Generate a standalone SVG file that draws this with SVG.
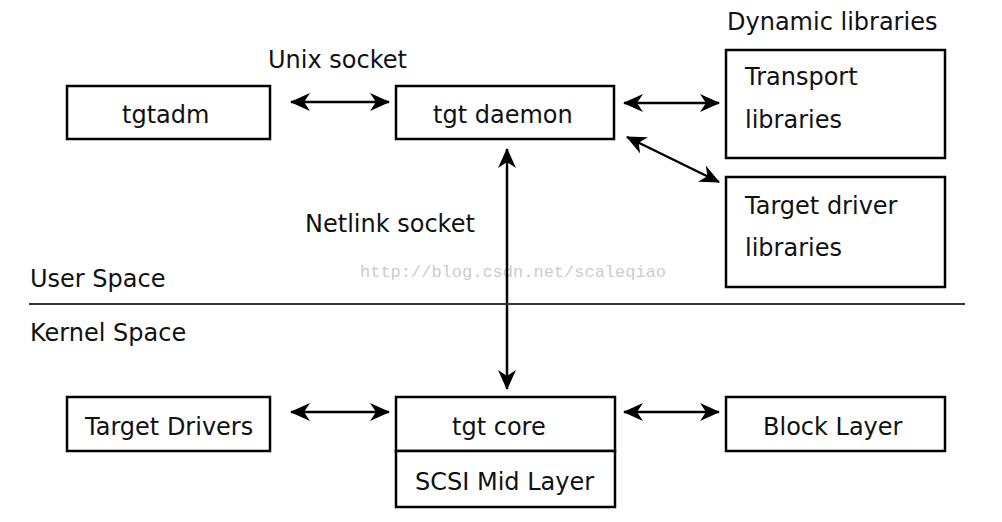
<svg xmlns="http://www.w3.org/2000/svg" width="1002" height="522" viewBox="0 0 1002 522">
<defs>
<marker id="ah" viewBox="0 0 20 18" refX="19" refY="9" markerWidth="20" markerHeight="18" markerUnits="userSpaceOnUse" orient="auto-start-reverse">
<path d="M0,0 L20,9 L0,18 L6,9 Z" fill="#000"/>
</marker>
<style>
.box{fill:#fff;stroke:#000;stroke-width:2.5}
.t{font-family:"DejaVu Sans",Verdana,sans-serif;font-size:24px;fill:#111}
.c{stroke:#000;stroke-width:2.5;fill:none;marker-start:url(#ah);marker-end:url(#ah)}
.wm{font-family:"Liberation Mono","DejaVu Sans Mono",monospace;font-size:17px;fill:#cccccc}
</style>
</defs>
<rect width="1002" height="522" fill="#fff"/>
<text class="wm" x="360" y="277">http://blog.csdn.net/scaleqiao</text>
<g id="connectors">
<line class="c" x1="291" y1="102" x2="389" y2="102"/>
<line class="c" x1="624" y1="103" x2="719" y2="103"/>
<line class="c" x1="627" y1="137" x2="719" y2="182"/>
<line class="c" x1="507" y1="149" x2="507" y2="389"/>
<line class="c" x1="291" y1="412" x2="389" y2="412"/>
<line class="c" x1="624" y1="412" x2="719" y2="412"/>
</g>
<g id="separator">
<line x1="29" y1="304" x2="965" y2="304" stroke="#333" stroke-width="2"/>
<text class="t" x="30" y="287">User Space</text>
<text class="t" x="30" y="341">Kernel Space</text>
</g>
<g id="labels">
<text class="t" x="268" y="68">Unix socket</text>
<text class="t" x="305" y="232">Netlink socket</text>
<text class="t" x="727" y="30">Dynamic libraries</text>
</g>
<g id="tgtadm"><rect class="box" x="67" y="86" width="203" height="53"/><text class="t" x="122" y="123">tgtadm</text></g>
<g id="tgt-daemon"><rect class="box" x="396" y="86" width="218" height="53"/><text class="t" x="433" y="123">tgt daemon</text></g>
<g id="transport-libraries"><rect class="box" x="726" y="50" width="219" height="108"/><text class="t" x="745" y="85">Transport</text><text class="t" x="745" y="128">libraries</text></g>
<g id="target-driver-libraries"><rect class="box" x="726" y="177" width="219" height="110"/><text class="t" x="745" y="214">Target driver</text><text class="t" x="745" y="256">libraries</text></g>
<g id="target-drivers"><rect class="box" x="67" y="397" width="203" height="54"/><text class="t" x="85" y="435">Target Drivers</text></g>
<g id="tgt-core"><rect class="box" x="396" y="397" width="219" height="54"/><text class="t" x="452" y="435">tgt core</text></g>
<g id="scsi-mid-layer"><rect class="box" x="396" y="451" width="219" height="56"/><text class="t" x="415" y="490">SCSI Mid Layer</text></g>
<g id="block-layer"><rect class="box" x="726" y="397" width="219" height="54"/><text class="t" x="763" y="435">Block Layer</text></g>
</svg>
